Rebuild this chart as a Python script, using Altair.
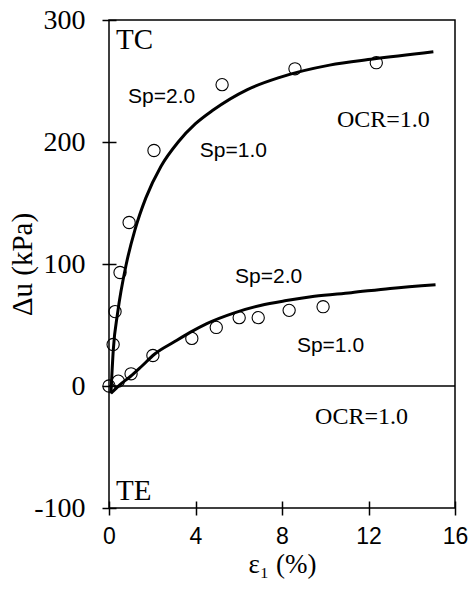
import altair as alt
import pandas as pd

# Measured points (open circles)
tc_x = [0.0, 0.19, 0.28, 0.51, 0.93, 2.08, 5.23, 8.6, 12.36]
tc_y = [0.0, 34, 61, 93, 134, 193, 247, 260, 265]
te_x = [0.43, 1.02, 2.03, 3.83, 4.96, 6.02, 6.9, 8.33, 9.9]
te_y = [4, 10, 25, 39, 48, 56, 56, 62, 65]

# Model curves
tc_curve_x = [0.09, 0.2, 0.4, 0.8, 1.2, 1.7, 2.4, 3.2, 4.0, 4.8, 6.4, 7.9, 10.2, 12.2, 15.0]
tc_curve_y = [-6, 30, 60, 100, 128, 154, 180, 200, 215, 226, 243, 253, 263, 268, 274]
te_curve_x = [0.09, 0.5, 1.0, 1.5, 2.1, 3.0, 3.75, 4.5, 5.8, 7.0, 8.2, 9.5, 11.2, 13.0, 15.1]
te_curve_y = [-6, 1, 8, 16, 26, 36, 44, 51, 60, 66, 70, 73.5, 76.5, 80, 83]

# Annotations
sans_text = ["Sp=2.0", "Sp=1.0", "Sp=2.0", "Sp=1.0"]
sans_x = [0.88, 4.2, 5.83, 8.69]
sans_y = [237, 193, 89, 33]
serif_text = ["OCR=1.0", "OCR=1.0"]
serif_x = [10.54, 9.53]
serif_y = [218, -25]
big_text = ["TC", "TE"]
big_x = [0.32, 0.32]
big_y = [284, -86]

x_ticks = [0, 4, 8, 12, 16]
y_ticks = [-100, 0, 100, 200, 300]

pts = pd.DataFrame({
    "x": tc_x + te_x,
    "y": tc_y + te_y,
    "s": ["TC"] * len(tc_x) + ["TE"] * len(te_x),
})
curves = pd.DataFrame({
    "x": tc_curve_x + te_curve_x,
    "y": tc_curve_y + te_curve_y,
    "s": ["TC"] * len(tc_curve_x) + ["TE"] * len(te_curve_x),
})
sans_df = pd.DataFrame({"x": sans_x, "y": sans_y, "t": sans_text})
serif_df = pd.DataFrame({"x": serif_x, "y": serif_y, "t": serif_text})
big_df = pd.DataFrame({"x": big_x, "y": big_y, "t": big_text})
zero_df = pd.DataFrame({"y": [0]})

xscale = alt.Scale(domain=[0, 16], nice=False, zero=False)
yscale = alt.Scale(domain=[-100, 300], nice=False, zero=False)

xenc = alt.X(
    "x:Q", scale=xscale,
    axis=alt.Axis(title="ε₁ (%)", values=x_ticks, labelExpr="'' + datum.value"),
)
yenc = alt.Y(
    "y:Q", scale=yscale,
    axis=alt.Axis(title="Δu (kPa)", values=y_ticks, labelExpr="'' + datum.value"),
)

points = alt.Chart(pts).mark_point(
    shape="circle", filled=False, size=150, color="black", strokeWidth=1.1, opacity=1
).encode(x=xenc, y=yenc)

lines = alt.Chart(curves).mark_line(
    color="black", strokeWidth=3, interpolate="monotone"
).encode(x=alt.X("x:Q"), y=alt.Y("y:Q"), detail="s:N")

zero = alt.Chart(zero_df).mark_rule(color="black", strokeWidth=1.5).encode(y=alt.Y("y:Q"))

sans = alt.Chart(sans_df).mark_text(
    font="Liberation Sans", fontSize=21, align="left", baseline="middle", color="black"
).encode(x=alt.X("x:Q"), y=alt.Y("y:Q"), text="t:N")

serif = alt.Chart(serif_df).mark_text(
    font="Liberation Serif", fontSize=24, align="left", baseline="middle", color="black"
).encode(x=alt.X("x:Q"), y=alt.Y("y:Q"), text="t:N")

big = alt.Chart(big_df).mark_text(
    font="Liberation Serif", fontSize=29, align="left", baseline="middle", color="black"
).encode(x=alt.X("x:Q"), y=alt.Y("y:Q"), text="t:N")

chart = (
    alt.layer(points, zero, lines, sans, serif, big)
    .properties(
        width=346, height=488,
        autosize=alt.AutoSizeParams(type="none"),
        padding={"left": 109, "top": 20, "right": 20, "bottom": 84},
        background="white",
    )
    .configure_view(stroke="black", strokeWidth=1.5)
    .configure_axis(
        grid=False, domain=False, offset=-7, tickSize=14, tickColor="black",
        tickWidth=1.5, labelColor="black", titleColor="black",
        titleFontWeight="normal", labelFontWeight="normal", labelFlush=False,
        labelOverlap=False,
    )
    .configure_axisX(
        labelFont="Liberation Sans", labelFontSize=23, labelPadding=10,
        titleFont="Liberation Serif", titleFontSize=27, titlePadding=3,
    )
    .configure_axisY(
        labelFont="Liberation Serif", labelFontSize=28, labelPadding=17,
        titleFont="Liberation Serif", titleFontSize=29, titlePadding=-4,
    )
)

chart.save("out.html", embed_options={"renderer": "svg", "actions": False})
